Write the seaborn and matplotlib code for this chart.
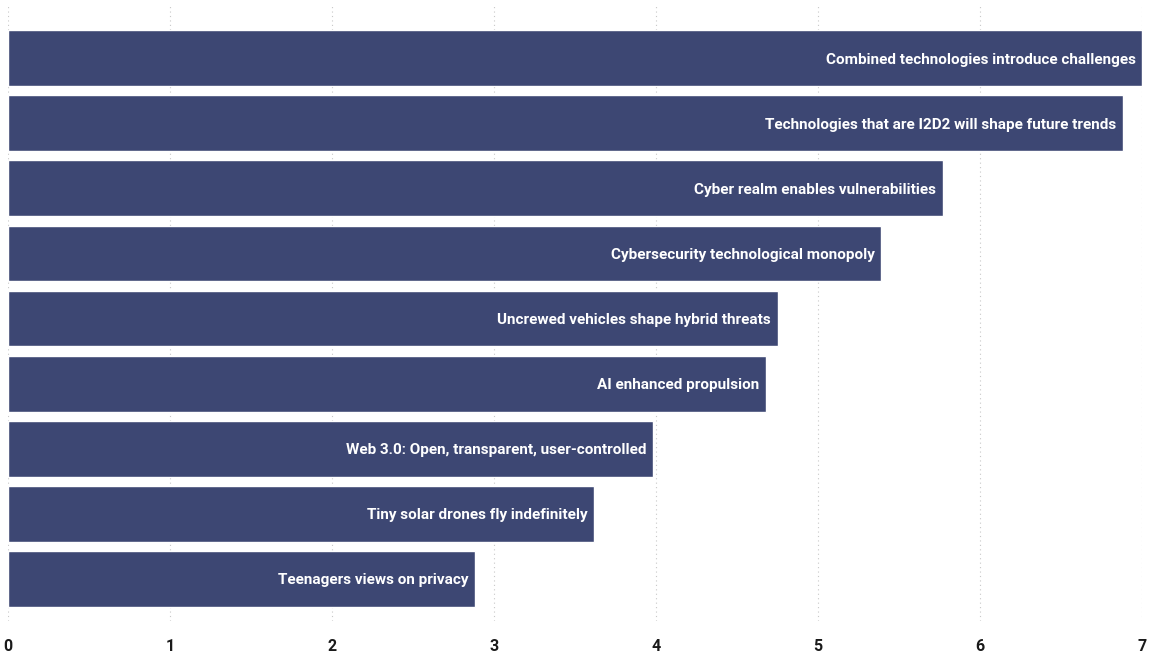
import matplotlib
matplotlib.use("Agg")
import matplotlib.pyplot as plt
import seaborn as sns
import pandas as pd

categories = [
    "Combined technologies introduce challenges",
    "Technologies that are I2D2 will shape future trends",
    "Cyber realm enables vulnerabilities",
    "Cybersecurity technological monopoly",
    "Uncrewed vehicles shape hybrid threats",
    "AI enhanced propulsion",
    "Web 3.0: Open, transparent, user-controlled",
    "Tiny solar drones fly indefinitely",
    "Teenagers views on privacy",
]
values = [7.0, 6.88, 5.77, 5.39, 4.75, 4.68, 3.98, 3.62, 2.88]
x_ticks = [0, 1, 2, 3, 4, 5, 6, 7]

df = pd.DataFrame({"topic": categories, "score": values})

sns.set_theme(style="white")
plt.rcParams["font.family"] = ["Roboto", "DejaVu Sans"]

W, H = 1149, 653
fig = plt.figure(figsize=(W / 100, H / 100), dpi=100)
ax = fig.add_axes([8 / W, 1 - 621 / H, (1142 - 8) / W, (621 - 5) / H])

bar_color = "#3d4773"
sns.barplot(data=df, x="score", y="topic", orient="h", color=bar_color,
            width=0.86, saturation=1, ax=ax, zorder=2)

ax.set_xlim(0, 7)
ax.set_ylim(8.65, -0.82)
ax.set_xticks(x_ticks)
ax.set_xticklabels([str(t) for t in x_ticks], fontsize=11.5, fontweight="bold",
                   color="#1a1a1a")
ax.tick_params(axis="x", length=0, pad=13)
ax.set_yticks([])
ax.set_xlabel("")
ax.set_ylabel("")
for s in ax.spines.values():
    s.set_visible(False)
ax.grid(axis="x", linestyle=(0, (1, 3)), color="#c8c8c8", linewidth=0.8, zorder=0)

for i, (label, v) in enumerate(zip(categories, values)):
    ax.text(v - 0.04, i + 0.02, label, ha="right", va="center", color="white",
            fontsize=11, fontweight="bold", zorder=3)

fig.savefig("out.png", dpi=100)
